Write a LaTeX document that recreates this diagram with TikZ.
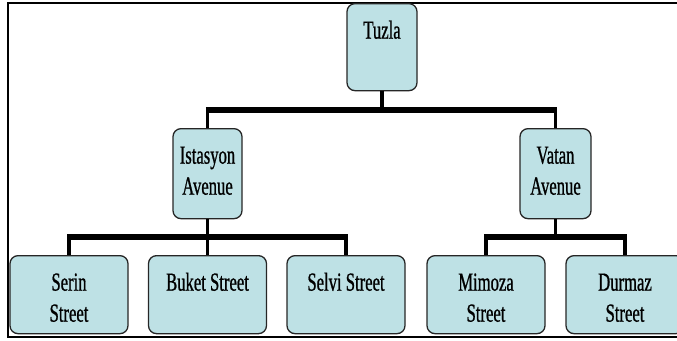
\documentclass[tikz,border=0pt]{standalone}
\usepackage{fontspec}
\setmainfont{Liberation Serif}
\newfontfamily\boxfont[FakeStretch=0.64,FakeBold=0.8]{Liberation Serif}
\usepackage{tikz}

\definecolor{boxblue}{RGB}{190,225,229}

% Text oben im Kasten: Breite, Hoehe, Text
\newcommand{\boxtext}[3]{\parbox[t][#2][t]{#1}{\centering\rule{0pt}{35pt}#3}}

\begin{document}
\begin{tikzpicture}[x=1pt, y=-1pt,
    font=\boxfont\fontsize{26}{31}\selectfont,
    box/.style={draw=black!85, line width=1.3pt, fill=boxblue,
        rounded corners=8pt, inner sep=0pt, anchor=north},
    bar/.style={line width=5.5pt, shorten <=-1.75pt, shorten >=-1.75pt}, % Querbalken
    stem/.style={line width=3.5pt} % senkrechte Linien
    ]
    \useasboundingbox (0,0) rectangle (677,340);

    % Rahmen
    \draw[line width=2pt] (677,3) -- (8,3) -- (8,337) -- (677,337);

    % Kaesten
    \node[box] (tuzla)    at (382,3)     {\boxtext{70pt}{87pt}{Tuzla}};
    \node[box] (istasyon) at (207.5,128) {\boxtext{69pt}{90pt}{Istasyon\\Avenue}};
    \node[box] (vatan)    at (555.5,128) {\boxtext{71pt}{90pt}{Vatan\\Avenue}};

    \node[box] (serin)  at (69,255)    {\boxtext{118pt}{78pt}{Serin\\Street}};
    \node[box] (buket)  at (207.5,255) {\boxtext{118pt}{78pt}{Buket Street}};
    \node[box] (selvi)  at (346,255)   {\boxtext{118pt}{78pt}{Selvi Street}};
    \node[box] (mimoza) at (486,255)   {\boxtext{118pt}{78pt}{Mimoza\\Street}};
    \node[box] (durmaz) at (625,255)   {\boxtext{118pt}{78pt}{Durmaz\\Street}};

    % Hoehen der Querbalken
    \coordinate (topbar) at (0,110);
    \coordinate (lowbar) at (0,237);

    % Verbindungen
    \draw[stem] (tuzla.south) -- (tuzla.south |- topbar)
                (istasyon.north |- topbar) -- (istasyon.north)
                (vatan.north |- topbar) -- (vatan.north);
    \draw[bar]  (istasyon.north |- topbar) -- (vatan.north |- topbar);

    \draw[stem] (istasyon.south) -- (istasyon.south |- lowbar)
                (serin.north |- lowbar) -- (serin.north)
                (buket.north |- lowbar) -- (buket.north)
                (selvi.north |- lowbar) -- (selvi.north);
    \draw[bar]  (serin.north |- lowbar) -- (selvi.north |- lowbar);

    \draw[stem] (vatan.south) -- (vatan.south |- lowbar)
                (mimoza.north |- lowbar) -- (mimoza.north)
                (durmaz.north |- lowbar) -- (durmaz.north);
    \draw[bar]  (mimoza.north |- lowbar) -- (durmaz.north |- lowbar);
\end{tikzpicture}
\end{document}
